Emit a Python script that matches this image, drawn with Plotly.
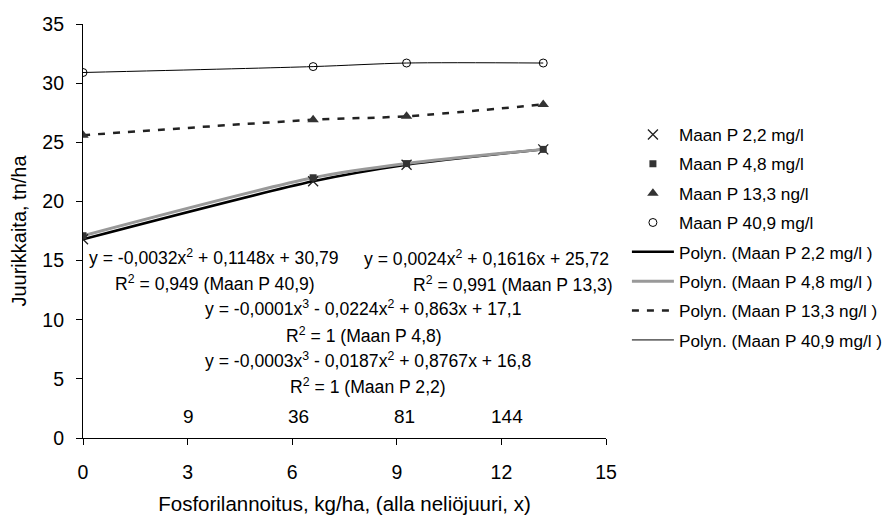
import plotly.graph_objects as go

# Data
x_vals = [0, 6.6, 9.28, 13.2]
p22 = [16.8, 21.7, 23.1, 24.4]
p48 = [17.1, 22.0, 23.2, 24.4]
p133 = [25.6, 26.9, 27.2, 28.2]
p409 = [30.9, 31.4, 31.7, 31.7]

marker_names = ["Maan P 2,2 mg/l", "Maan P 4,8 mg/l", "Maan P 13,3 ng/l", "Maan P 40,9 mg/l"]
trend_names = ["Polyn. (Maan P 2,2 mg/l )", "Polyn. (Maan P 4,8 mg/l )",
               "Polyn. (Maan P 13,3 ng/l )", "Polyn. (Maan P 40,9 mg/l )"]

eq_texts = [
    "y = -0,0032x<sup>2</sup> + 0,1148x + 30,79",
    "R<sup>2</sup> = 0,949 (Maan P 40,9)",
    "y = 0,0024x<sup>2</sup> + 0,1616x + 25,72",
    "R<sup>2</sup> = 0,991 (Maan P 13,3)",
    "y = -0,0001x<sup>3</sup> - 0,0224x<sup>2</sup> + 0,863x + 17,1",
    "R<sup>2</sup> = 1 (Maan P 4,8)",
    "y = -0,0003x<sup>3</sup> - 0,0187x<sup>2</sup> + 0,8767x + 16,8",
    "R<sup>2</sup> = 1 (Maan P 2,2)",
]
square_labels = ["9", "36", "81", "144"]

FONT = "Liberation Sans, Arial, sans-serif"

fig = go.Figure()

series = [p22, p48, p133, p409]
line_styles = [
    dict(color="black", width=2.5),
    dict(color="#999999", width=3),
    dict(color="#222222", width=2.5, dash="7px,8px"),
    dict(color="black", width=1),
]
for i, (ys, nm, ls) in enumerate(zip(series, trend_names, line_styles)):
    fig.add_trace(go.Scatter(x=x_vals, y=ys, mode="lines", name=nm,
                             line=dict(shape="spline", smoothing=0.8, **ls),
                             legendrank=5 + i, legendgroup=f"g{5+i}"))

marker_styles = [
    dict(symbol="x-thin", size=10, line=dict(color="#222222", width=1.3), color="#222222"),
    dict(symbol="square", size=7, color="#333333"),
    dict(symbol="triangle-up", size=10, color="#333333"),
    dict(symbol="circle-open", size=8, color="black", line=dict(width=1)),
]
for i, (ys, nm, ms) in enumerate(zip(series, marker_names, marker_styles)):
    fig.add_trace(go.Scatter(x=x_vals, y=ys, mode="markers", name=nm,
                             marker=ms, legendrank=1 + i, legendgroup=f"g{1+i}"))

# Equation annotations
eq_pos = [(3.77, 15.31), (3.78, 13.11), (11.58, 15.18), (12.34, 13.06),
          (8.02, 10.95), (8.06, 8.75), (8.17, 6.63), (8.16, 4.40)]
for t, (ax, ay) in zip(eq_texts, eq_pos):
    fig.add_annotation(x=ax, y=ay, text=t, showarrow=False, xref="x", yref="y",
                       font=dict(size=17.6, color="black", family=FONT),
                       xanchor="center", yanchor="middle")

sq_pos = [3.02, 6.18, 9.21, 12.16]
for t, ax in zip(square_labels, sq_pos):
    fig.add_annotation(x=ax, y=1.84, text=t, showarrow=False, xref="x", yref="y",
                       font=dict(size=19, color="black", family=FONT),
                       xanchor="center", yanchor="middle")

fig.update_layout(
    width=883, height=510,
    margin=dict(l=75, r=285, t=16, b=80, autoexpand=False),
    paper_bgcolor="white", plot_bgcolor="white",
    font=dict(family=FONT, size=18, color="black"),
    showlegend=True,
    legend=dict(x=1.04, xanchor="left", y=0.776, yanchor="top",
                traceorder="grouped", tracegroupgap=4,
                font=dict(size=17.2, color="black", family=FONT),
                itemwidth=42, bgcolor="rgba(0,0,0,0)"),
    xaxis=dict(range=[0, 15], tickvals=[0, 3, 6, 9, 12, 15], showgrid=False, zeroline=False,
               showline=True, linecolor="black", linewidth=1.2,
               ticks="outside", ticklen=6, tickcolor="black", tickwidth=1.2,
               ticklabelstandoff=10,
               tickfont=dict(size=19.5),
               title=dict(text="Fosforilannoitus, kg/ha, (alla neliöjuuri, x)",
                          font=dict(size=20.5), standoff=15)),
    yaxis=dict(range=[0, 35], tickvals=[0, 5, 10, 15, 20, 25, 30, 35], showgrid=False, zeroline=False,
               showline=True, linecolor="black", linewidth=1.2,
               ticks="outside", ticklen=6, tickcolor="black", tickwidth=1.2,
               ticklabelstandoff=8,
               tickfont=dict(size=19.5),
               title=dict(text="Juurikkaita, tn/ha", font=dict(size=20), standoff=12)),
)

fig.write_html("out.html")
